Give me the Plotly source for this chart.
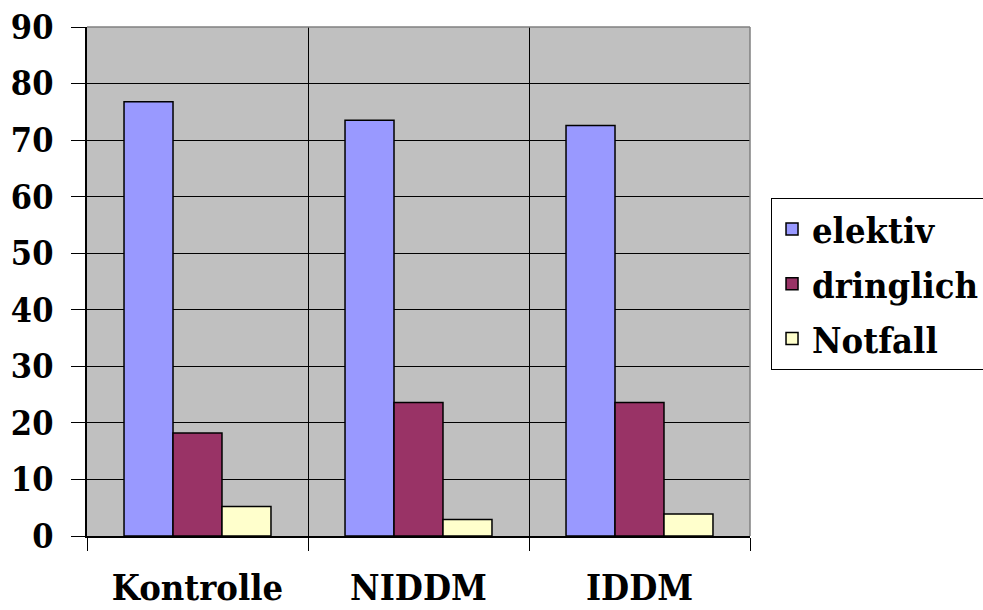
import plotly.graph_objects as go

categories = ["Kontrolle", "NIDDM", "IDDM"]
series_names = ["elektiv", "dringlich", "Notfall"]
elektiv = [76.8, 73.5, 72.6]
dringlich = [18.2, 23.6, 23.6]
notfall = [5.2, 2.9, 3.9]
colors = ["#9999FF", "#993366", "#FFFFCC"]
y_ticks = [0, 10, 20, 30, 40, 50, 60, 70, 80, 90]

FONT = "DejaVu Serif Condensed"

fig = go.Figure()
for name, vals, col in zip(series_names, [elektiv, dringlich, notfall], colors):
    fig.add_trace(go.Bar(
        x=categories, y=vals, name=name, legendgroup=name,
        marker=dict(color=col, line=dict(color="black", width=1.5)),
    ))

fig.update_layout(
    width=983, height=610,
    margin=dict(l=87, r=233, t=27, b=74, autoexpand=False),
    paper_bgcolor="white",
    plot_bgcolor="#C0C0C0",
    barmode="group",
    bargap=0.335,
    bargroupgap=0,
    font=dict(family=FONT, color="black", size=34),
    legend=dict(
        x=1.0317, y=0.664, xanchor="left", yanchor="top",
        bgcolor="white", bordercolor="black", borderwidth=1,
        font=dict(family=FONT, size=36, weight="bold"),
        tracegroupgap=5,
    ),
    showlegend=True,
)

fig.update_xaxes(
    type="category",
    tickson="boundaries",
    automargin=False,
    showgrid=True, gridcolor="black", gridwidth=1.2,
    ticks="outside", ticklen=13, tickcolor="black", tickwidth=1.2,
    showline=True, linecolor="black", linewidth=1.5,
    tickfont=dict(family=FONT, size=36, weight="bold"),
    ticklabelstandoff=19,
)
fig.update_yaxes(
    range=[0, 90],
    tickvals=y_ticks,
    automargin=False,
    showgrid=True, gridcolor="black", gridwidth=1.2,
    ticks="outside", ticklen=14, tickcolor="black", tickwidth=1.2,
    showline=True, linecolor="black", linewidth=1.5,
    tickfont=dict(family=FONT, size=34, weight="bold"),
    ticklabelstandoff=11,
    zeroline=False,
)

# gray top and right border of the plot area
fig.add_shape(type="line", xref="paper", yref="paper", x0=0, x1=1, y0=1, y1=1,
              line=dict(color="#808080", width=1.5))
fig.add_shape(type="line", xref="paper", yref="paper", x0=1, x1=1, y0=0, y1=1,
              line=dict(color="#808080", width=1.5))

# remove the default page margin so the figure fills the window exactly
fig.write_html("out.html",
               config={"displayModeBar": False},
               post_script="document.body.style.margin='0';document.body.style.overflow='hidden';")
